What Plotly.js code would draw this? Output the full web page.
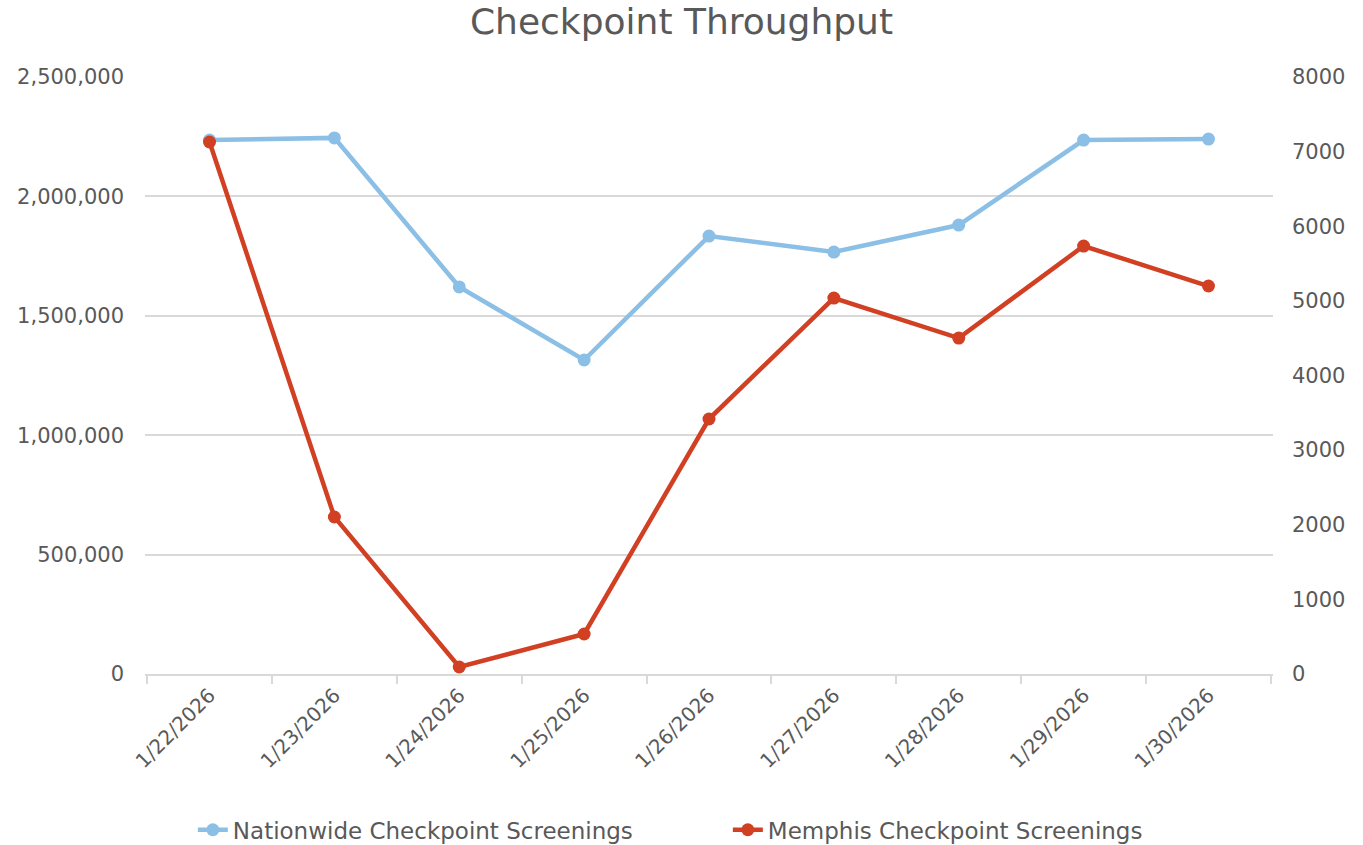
<!DOCTYPE html>
<html><head><meta charset="utf-8">
<script src="https://cdn.plot.ly/plotly-3.0.1.min.js"></script>
<style>html,body{margin:0;padding:0;background:#fff}#c{width:1363px;height:845px}</style>
</head><body><div id="c"></div>
<script>
const dates = ["1/22/2026","1/23/2026","1/24/2026","1/25/2026","1/26/2026","1/27/2026","1/28/2026","1/29/2026","1/30/2026"];
const nationwide = [2236000, 2245000, 1621000, 1315000, 1834000, 1767000, 1880000, 2236000, 2240000];
const memphis = [7129, 2104, 94, 536, 3417, 5038, 4502, 5735, 5199];
const leftTicks = [0, 500000, 1000000, 1500000, 2000000, 2500000];
const leftTickText = ["0","500,000","1,000,000","1,500,000","2,000,000","2,500,000"];
const rightTicks = [0,1000,2000,3000,4000,5000,6000,7000,8000];

const FONT = "'DejaVu Sans', sans-serif";
const traces = [
  {x: dates, y: nationwide, name: "Nationwide Checkpoint Screenings", type: "scatter", mode: "lines+markers",
   line: {color: "#8BBFE6", width: 4.5}, marker: {color: "#8BBFE6", size: 13}, yaxis: "y"},
  {x: dates, y: memphis, name: "Memphis Checkpoint Screenings", type: "scatter", mode: "lines+markers",
   line: {color: "#D24024", width: 4.5}, marker: {color: "#D24024", size: 13}, yaxis: "y2"}
];
const layout = {
  width: 1363, height: 845,
  margin: {l: 145, r: 90, t: 77, b: 171, autoexpand: false},
  paper_bgcolor: "#fff", plot_bgcolor: "#fff",
  font: {family: FONT, color: "#595959", size: 20},
  title: {text: "Checkpoint Throughput", font: {size: 36, color: "#595959", family: FONT}, x: 0.5, xanchor: "center", y: 0.975, yanchor: "middle"},
  showlegend: true,
  legend: {orientation: "h", xref: "container", yref: "container", x: 0.534, xanchor: "center", y: 0.018, yanchor: "middle",
           font: {size: 23, color: "#595959"}, entrywidth: 490, entrywidthmode: "pixels"},
  xaxis: {type: "category", tickangle: -45, showgrid: false, showline: true, linecolor: "#D9D9D9", linewidth: 1.5,
          ticks: "outside", tickson: "boundaries", ticklen: 8, tickcolor: "#D9D9D9", tickwidth: 1.5,
          tickfont: {size: 20, color: "#595959"}, zeroline: false},
  yaxis: {range: [0, 2500000], tickvals: leftTicks, ticktext: leftTickText, showgrid: true, gridcolor: "#D9D9D9", gridwidth: 1.5,
          zeroline: false, showline: false, ticks: "", tickfont: {size: 21, color: "#595959"}, ticklabelstandoff: 20},
  yaxis2: {range: [0, 8000], tickvals: rightTicks, overlaying: "y", side: "right", showgrid: false, zeroline: false,
           showline: false, ticks: "", tickfont: {size: 21, color: "#595959"}, ticklabelstandoff: 18}
};
Plotly.newPlot("c", traces, layout, {displayModeBar: false});
</script></body></html>
